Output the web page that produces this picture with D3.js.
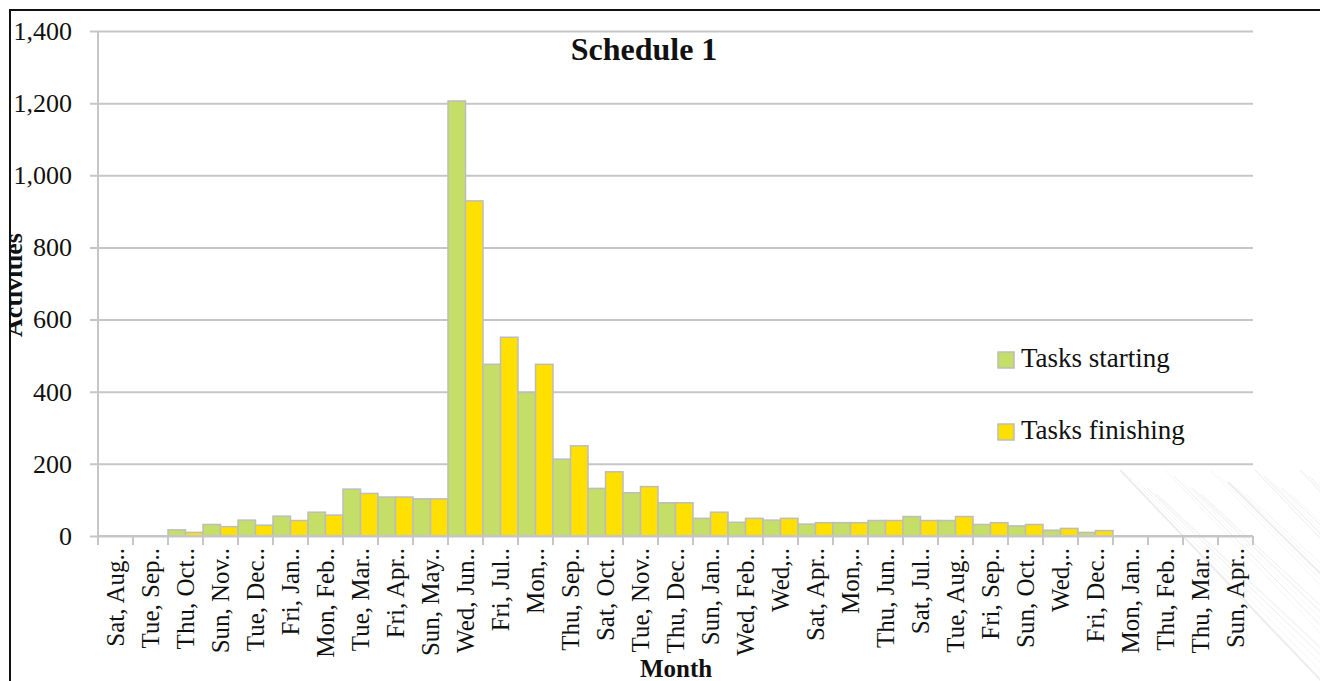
<!DOCTYPE html>
<html>
<head>
<meta charset="utf-8">
<script src="https://cdn.jsdelivr.net/npm/d3@7/dist/d3.min.js"></script>
<style>
  html, body { margin: 0; padding: 0; background: #fff; overflow: hidden; }
  svg { display: block; }
  text { font-family: "Liberation Serif", "Times New Roman", serif; fill: #111; }
</style>
</head>
<body>
<svg id="chart" width="1320" height="681"></svg>
<script>
// Monthly activity counts for Schedule 1
const categories = [
  "Sat, Aug..", "Tue, Sep..", "Thu, Oct..", "Sun, Nov..", "Tue, Dec..", "Fri, Jan..",
  "Mon, Feb..", "Tue, Mar..", "Fri, Apr..", "Sun, May..", "Wed, Jun..", "Fri, Jul..",
  "Mon,..", "Thu, Sep..", "Sat, Oct..", "Tue, Nov..", "Thu, Dec..", "Sun, Jan..",
  "Wed, Feb..", "Wed,..", "Sat, Apr..", "Mon,..", "Thu, Jun..", "Sat, Jul..",
  "Tue, Aug..", "Fri, Sep..", "Sun, Oct..", "Wed,..", "Fri, Dec..", "Mon, Jan..",
  "Thu, Feb..", "Thu, Mar..", "Sun, Apr.."
];
const tasksStarting = [
  0, 0, 17, 32, 44, 55, 66, 130, 108, 103, 1206, 476,
  398, 213, 132, 120, 92, 49, 38, 44, 33, 37, 43, 54,
  43, 32, 28, 16, 10, 0, 0, 0, 0
];
const tasksFinishing = [
  0, 0, 10, 26, 30, 43, 58, 118, 108, 103, 929, 551,
  476, 250, 178, 137, 92, 66, 49, 49, 37, 37, 43, 43,
  54, 37, 32, 21, 15, 0, 0, 0, 0
];
const seriesNames = ["Tasks starting", "Tasks finishing"];
const yTicks = [0, 200, 400, 600, 800, 1000, 1200, 1400];

const colors = { "Tasks starting": "#C4DE68", "Tasks finishing": "#FFE000" };
const gridColor = "#c6c6c6";
const barStroke = "#bdbdbd";

const svg = d3.select("#chart");
const W = 1320, H = 681;
const plot = { left: 98, right: 1253, top: 31, bottom: 536 };

// faint decorative streaks in the lower-right corner of the background
const deco = svg.append("g").attr("opacity", 0.45);
for (let i = 0; i < 26; i++) {
  const x0 = 1120 + i * 9;
  deco.append("line")
    .attr("x1", x0).attr("y1", 470 + (i % 5) * 6)
    .attr("x2", x0 + 210).attr("y2", 690)
    .attr("stroke", i % 3 === 0 ? "#d9d9d9" : "#ececec")
    .attr("stroke-width", i % 4 === 0 ? 2 : 1);
}

// chart frame
svg.append("rect")
  .attr("x", 10).attr("y", 10).attr("width", W + 20).attr("height", H + 20)
  .attr("fill", "none").attr("stroke", "#111").attr("stroke-width", 2);

// categories repeat some labels, so the band scale is keyed by index
const idx = d3.range(categories.length);
const x = d3.scaleBand().domain(idx).range([plot.left, plot.right]).padding(0);
const xInner = d3.scaleBand().domain(seriesNames).range([0, x.bandwidth()]).padding(0);
const y = d3.scaleLinear().domain([0, 1400]).range([plot.bottom, plot.top]);

// horizontal gridlines with left ticks
const yAxis = d3.axisLeft(y).tickValues(yTicks).tickFormat(d3.format(","))
  .tickSize(-(plot.right - plot.left)).tickSizeOuter(0).tickPadding(18);
const yg = svg.append("g").attr("transform", `translate(${plot.left},0)`).call(yAxis);
yg.select(".domain").remove();
yg.selectAll(".tick line").attr("stroke", gridColor).attr("stroke-width", 2)
  .attr("x1", -8);
yg.selectAll(".tick text")
  .style("font-family", "'Liberation Serif', serif").style("font-size", "26px")
  .attr("fill", "#111").attr("x", -26);

// vertical axis line
svg.append("line")
  .attr("x1", plot.left).attr("x2", plot.left)
  .attr("y1", plot.top).attr("y2", plot.bottom + 9)
  .attr("stroke", gridColor).attr("stroke-width", 2);

// bars
const groups = svg.append("g").selectAll("g")
  .data(idx.map(i => ({ i, vals: [tasksStarting[i], tasksFinishing[i]] })))
  .join("g")
  .attr("transform", d => `translate(${x(d.i)},0)`);
groups.selectAll("rect")
  .data(d => d.vals.map((v, j) => ({ name: seriesNames[j], v })).filter(e => e.v > 0))
  .join("rect")
  .attr("x", d => xInner(d.name))
  .attr("y", d => y(d.v))
  .attr("width", xInner.bandwidth())
  .attr("height", d => y(0) - y(d.v))
  .attr("fill", d => colors[d.name])
  .attr("stroke", barStroke).attr("stroke-width", 1.5);

// category axis
const xAxis = d3.axisBottom(x).tickSize(0).tickSizeOuter(0).tickPadding(0)
  .tickFormat(i => categories[i]);
const xg = svg.append("g").attr("transform", `translate(0,${plot.bottom})`).call(xAxis);
xg.select(".domain").attr("stroke", gridColor).attr("stroke-width", 2)
  .attr("d", `M${plot.left},0H${plot.right}`);
xg.selectAll(".tick text")
  .style("font-family", "'Liberation Serif', serif").style("font-size", "25px")
  .attr("fill", "#111")
  .attr("text-anchor", "end")
  .attr("transform", "rotate(-90)")
  .attr("x", -12).attr("y", 0).attr("dy", "0.33em");
// category boundary ticks
const bounds = idx.map(i => x(i)).concat([plot.right]);
svg.append("g").selectAll("line").data(bounds).join("line")
  .attr("x1", d => d).attr("x2", d => d)
  .attr("y1", plot.bottom).attr("y2", plot.bottom + 9)
  .attr("stroke", gridColor).attr("stroke-width", 2);

// title
svg.append("text")
  .attr("x", 644).attr("y", 60).attr("text-anchor", "middle")
  .style("font-weight", "bold").style("font-size", "32px")
  .text("Schedule 1");

// axis titles
svg.append("text")
  .attr("x", 676).attr("y", 677).attr("text-anchor", "middle")
  .style("font-weight", "bold").style("font-size", "25px")
  .text("Month");

svg.append("clipPath").attr("id", "frameClip")
  .append("rect").attr("x", 11).attr("y", 11).attr("width", W).attr("height", H);
svg.append("g").attr("clip-path", "url(#frameClip)")
  .append("text")
  .attr("transform", "translate(22,285) rotate(-90)")
  .attr("text-anchor", "middle")
  .style("font-weight", "bold").style("font-size", "26px")
  .text("Activities");

// legend
const legend = svg.append("g");
seriesNames.forEach((name, i) => {
  const ly = 352 + i * 72;
  legend.append("rect")
    .attr("x", 998).attr("y", ly).attr("width", 16).attr("height", 16)
    .attr("fill", colors[name]).attr("stroke", barStroke).attr("stroke-width", 1.5);
  legend.append("text")
    .attr("x", 1021).attr("y", ly + 15)
    .style("font-size", "27px")
    .text(name);
});
</script>
</body>
</html>
